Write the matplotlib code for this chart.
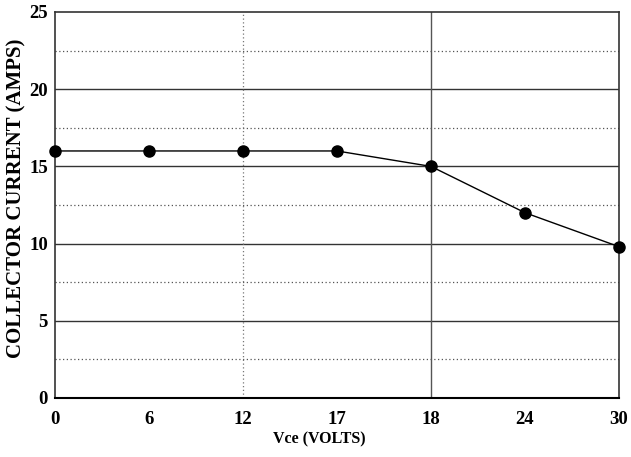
import matplotlib
matplotlib.use("Agg")
import matplotlib.pyplot as plt

x_labels = ["0", "6", "12", "17", "18", "24", "30"]
current = [16, 16, 16, 16, 15, 12, 9.8]
y_ticks = [0, 5, 10, 15, 20, 25]

plt.rcParams['font.family'] = ['Liberation Serif', 'DejaVu Serif']
plt.rcParams['font.weight'] = 'bold'

fig = plt.figure(figsize=(6.31, 4.57), dpi=100)
ax = fig.add_axes([55/631, (457-398)/457, (619-55)/631, (398-12)/457])

xs = list(range(len(x_labels)))
ax.set_xlim(0, len(x_labels) - 1)
ax.set_ylim(0, 25)

# grid lines
for yv in [5, 10, 15, 20]:
    ax.axhline(yv, color='#333333', lw=1.0, zorder=1)
for yv in [2.5, 7.5, 12.5, 17.5, 22.5]:
    ax.axhline(yv, color='#555555', lw=0.9, ls=(0, (1, 2)), zorder=1)
ax.axvline(4, color='#555555', lw=1.0, zorder=1)
ax.axvline(2, color='#777777', lw=0.9, ls=(0, (1, 2)), zorder=1)

ax.plot(xs, current, color='black', lw=1.0, marker='o', markersize=8,
        clip_on=False, zorder=3)

ax.set_xticks(xs)
ax.set_xticklabels(x_labels)
ax.set_yticks(y_ticks)
ax.tick_params(length=0, labelsize=13.5)
ax.tick_params(axis='x', pad=9)
ax.tick_params(axis='y', pad=5)
for lab in ax.get_xticklabels() + ax.get_yticklabels():
    lab.set_fontweight('bold')

ax.set_xlabel("Vce (VOLTS)", fontsize=11.5, fontweight='bold')
ax.xaxis.label.set_va('center')
ax.xaxis.set_label_coords(0.468, -0.108)
ax.set_ylabel("COLLECTOR CURRENT (AMPS)", fontsize=15, fontweight='bold')
ax.yaxis.label.set_va('center')
ax.yaxis.set_label_coords(-0.069, 0.517)

for s in ax.spines.values():
    s.set_color('#333333')
    s.set_linewidth(1.2)
ax.spines['bottom'].set_color('black')
ax.spines['bottom'].set_linewidth(1.5)

fig.savefig("out.png", dpi=100)
